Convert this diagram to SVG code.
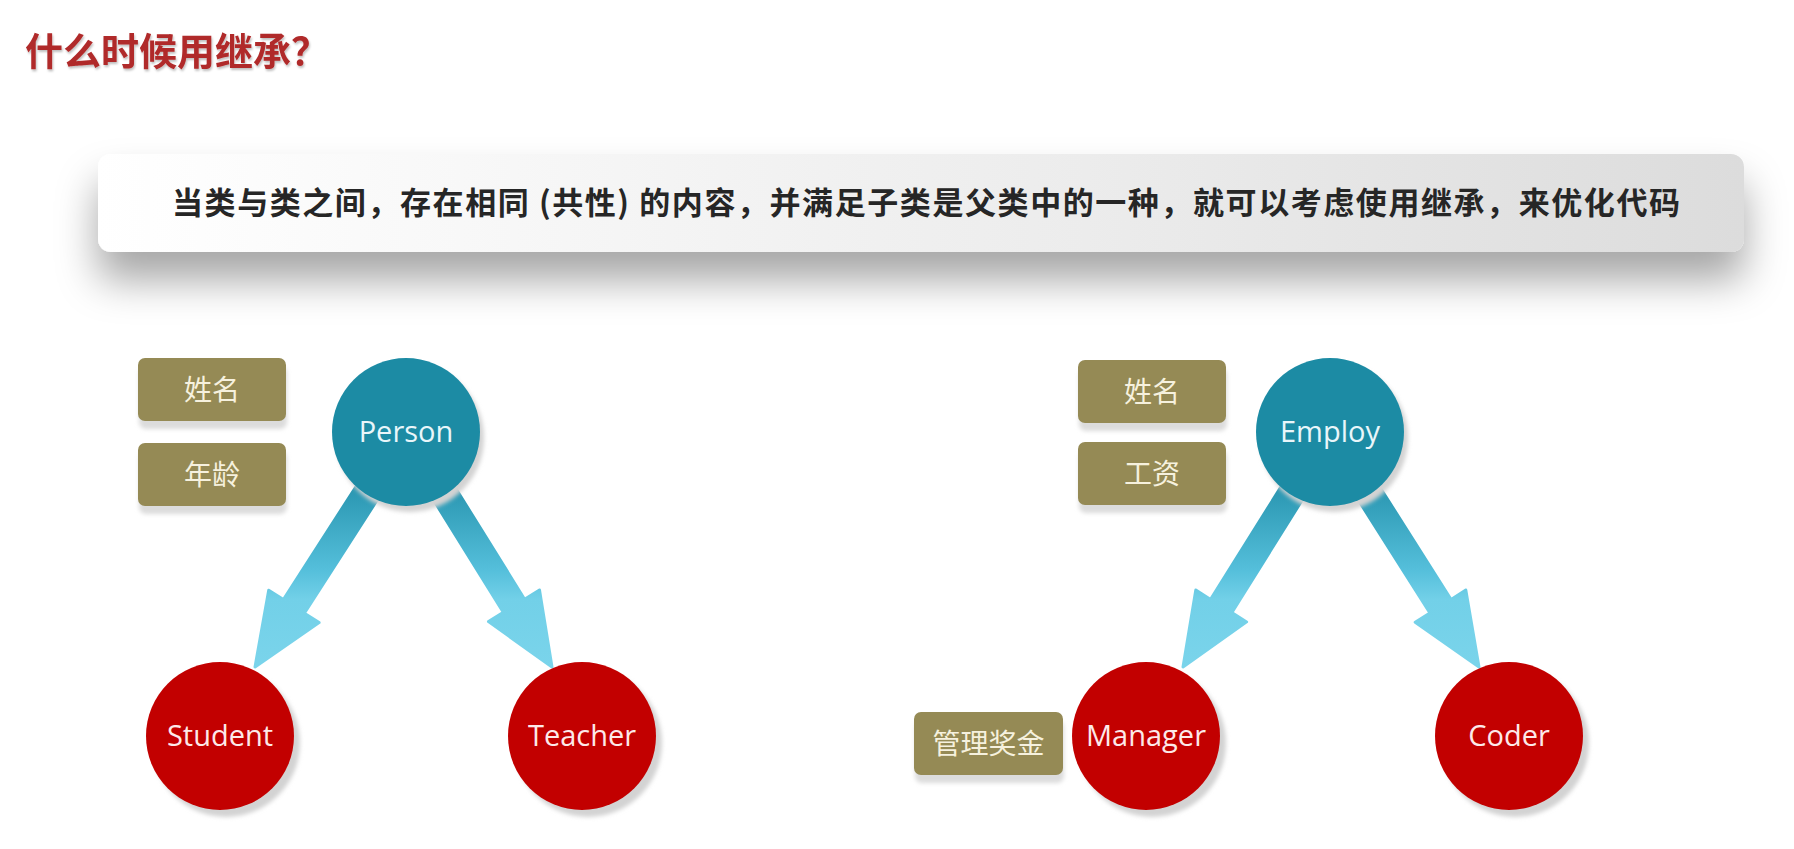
<svg xmlns="http://www.w3.org/2000/svg" width="1794" height="849" viewBox="0 0 1794 849">
<style>
.title{font-family:"Noto Sans CJK SC","Noto Sans",sans-serif;font-weight:700;font-size:38px;fill:#b02a2a}
.banner-text{font-family:"Noto Sans CJK SC","Noto Sans",sans-serif;font-weight:700;font-size:31px;fill:#262626}
.box{fill:#958a55}
.boxshadow{fill:#dcdcdc}
.boxtext{font-family:"Noto Sans CJK SC","Noto Sans",sans-serif;font-size:28px;fill:#f6f1de;text-anchor:middle}
.parent{fill:#1c8ba4}
.child{fill:#c20000}
.cshadow{fill:#d3d3d3}
.ctext{font-family:"Open Sans","Noto Sans",sans-serif;font-size:29px;text-anchor:middle}
.ptext{fill:#e9f6fa}
.chtext{fill:#fde9e9}
.arrow{stroke-linejoin:round;stroke-width:3}
</style>
<defs>
<linearGradient id="bannerGrad" x1="0" y1="0" x2="1" y2="0">
<stop offset="0" stop-color="#ffffff"/>
<stop offset="0.6" stop-color="#ececec"/>
<stop offset="1" stop-color="#dcdcdc"/>
</linearGradient>
<linearGradient id="arrowGrad" x1="0" y1="0" x2="0" y2="1">
<stop offset="0" stop-color="#1f7f98"/>
<stop offset="0.3" stop-color="#2f9bb6"/>
<stop offset="0.6" stop-color="#55bfdb"/>
<stop offset="0.72" stop-color="#72d0e8"/>
<stop offset="1" stop-color="#7ad4eb"/>
</linearGradient>
<filter id="bannerShadow" x="-5%" y="-40%" width="110%" height="240%">
<feDropShadow dx="0" dy="28" stdDeviation="20" flood-color="#000" flood-opacity="0.35"/>
</filter>
<filter id="soft" x="-20%" y="-20%" width="140%" height="140%">
<feGaussianBlur stdDeviation="2"/>
</filter>
<filter id="titleShadow" x="-5%" y="-20%" width="110%" height="150%">
<feDropShadow dx="1" dy="2" stdDeviation="1" flood-color="#000" flood-opacity="0.25"/>
</filter>
</defs>
<rect width="1794" height="849" fill="#ffffff"/>

<g id="title">
<text class="title" x="25" y="65" filter="url(#titleShadow)">什么时候用继承？</text>
</g>

<g id="banner">
<rect x="98" y="154" width="1646" height="98" rx="13" fill="url(#bannerGrad)" filter="url(#bannerShadow)"/>
<text class="banner-text" x="172" y="214" textLength="1508" lengthAdjust="spacing">当类与类之间，存在相同 (共性) 的内容，并满足子类是父类中的一种，就可以考虑使用继承，来优化代码</text>
</g>

<g id="connectors">
<polygon class="arrow" fill="url(#arrowGrad)" stroke="url(#arrowGrad)" points="416.5,438.8 304.4,613.2 319.1,622.6 255,667 268.7,590.2 283.4,599.6 395.5,425.2"/>
<polygon class="arrow" fill="url(#arrowGrad)" stroke="url(#arrowGrad)" points="395.4,438.6 503.4,612.4 488.5,621.6 552,667 539.5,590 524.6,599.2 416.6,425.4"/>
<polygon class="arrow" fill="url(#arrowGrad)" stroke="url(#arrowGrad)" points="1340.6,438.6 1231.8,612.6 1246.6,621.9 1183,667 1195.8,590.1 1210.6,599.4 1319.4,425.4"/>
<polygon class="arrow" fill="url(#arrowGrad)" stroke="url(#arrowGrad)" points="1319.4,438.7 1429.9,612.9 1415.2,622.3 1479,667 1465.8,590.1 1451.1,599.5 1340.6,425.3"/>
</g>

<g id="attr-name-left">
<rect class="boxshadow" x="139" y="366" width="148" height="63" rx="7" filter="url(#soft)"/>
<rect class="box" x="138" y="358" width="148" height="63" rx="7"/>
<text class="boxtext" x="212" y="400">姓名</text>
</g>
<g id="attr-age-left">
<rect class="boxshadow" x="139" y="451" width="148" height="63" rx="7" filter="url(#soft)"/>
<rect class="box" x="138" y="443" width="148" height="63" rx="7"/>
<text class="boxtext" x="212" y="485">年龄</text>
</g>

<g id="person">
<circle class="cshadow" cx="410" cy="438" r="74" filter="url(#soft)"/>
<circle class="parent" cx="406" cy="432" r="74"/>
<text class="ctext ptext" x="406" y="442">Person</text>
</g>
<g id="student">
<circle class="cshadow" cx="226" cy="743" r="74" filter="url(#soft)"/>
<circle class="child" cx="220" cy="736" r="74"/>
<text class="ctext chtext" x="220" y="746">Student</text>
</g>
<g id="teacher">
<circle class="cshadow" cx="588" cy="743" r="74" filter="url(#soft)"/>
<circle class="child" cx="582" cy="736" r="74"/>
<text class="ctext chtext" x="582" y="746">Teacher</text>
</g>

<g id="attr-name-right">
<rect class="boxshadow" x="1079" y="368" width="148" height="63" rx="7" filter="url(#soft)"/>
<rect class="box" x="1078" y="360" width="148" height="63" rx="7"/>
<text class="boxtext" x="1152" y="402">姓名</text>
</g>
<g id="attr-salary-right">
<rect class="boxshadow" x="1079" y="450" width="148" height="63" rx="7" filter="url(#soft)"/>
<rect class="box" x="1078" y="442" width="148" height="63" rx="7"/>
<text class="boxtext" x="1152" y="484">工资</text>
</g>
<g id="attr-bonus">
<rect class="boxshadow" x="915" y="720" width="149" height="63" rx="7" filter="url(#soft)"/>
<rect class="box" x="914" y="712" width="149" height="63" rx="7"/>
<text class="boxtext" x="988.5" y="754">管理奖金</text>
</g>

<g id="employ">
<circle class="cshadow" cx="1334" cy="438" r="74" filter="url(#soft)"/>
<circle class="parent" cx="1330" cy="432" r="74"/>
<text class="ctext ptext" x="1330" y="442">Employ</text>
</g>
<g id="manager">
<circle class="cshadow" cx="1152" cy="743" r="74" filter="url(#soft)"/>
<circle class="child" cx="1146" cy="736" r="74"/>
<text class="ctext chtext" x="1146" y="746">Manager</text>
</g>
<g id="coder">
<circle class="cshadow" cx="1515" cy="743" r="74" filter="url(#soft)"/>
<circle class="child" cx="1509" cy="736" r="74"/>
<text class="ctext chtext" x="1509" y="746">Coder</text>
</g>
</svg>
